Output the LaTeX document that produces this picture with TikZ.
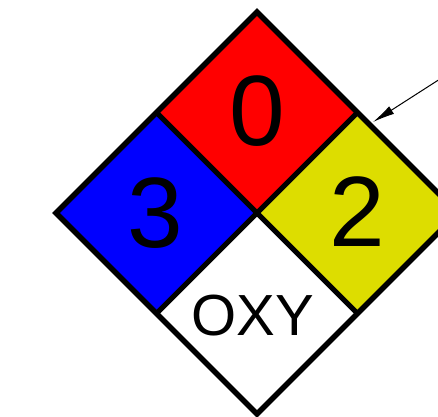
\documentclass[tikz,border=0pt]{standalone}
\usepackage{fontspec}
\setmainfont{Liberation Sans}
\usetikzlibrary{arrows.meta}
\definecolor{firered}{RGB}{255,0,0}
\definecolor{healthblue}{RGB}{0,0,255}
\definecolor{reactyellow}{RGB}{221,221,0}
\tikzset{
  rimline/.style={draw=black, line width=5.5pt, line join=miter},
  splitline/.style={draw=black, line width=5pt},
  rating/.style={font=\fontsize{100}{100}\selectfont, inner sep=0pt},
  special/.style={font=\fontsize{58}{58}\selectfont, inner sep=0pt},
  pointer/.style={-{Latex[length=22pt,width=9pt]}, line width=1pt}
}

\begin{document}
\begin{tikzpicture}[x=1pt,y=1pt]
  \clip (0,0) rectangle (438,416);
  % corners of the diamond
  \coordinate (c) at (257,203);
  \coordinate (t) at (257,404);
  \coordinate (l) at (56,203);
  \coordinate (r) at (458,203);
  \coordinate (b) at (257,2);
  \coordinate (tl) at (156.5,303.5);
  \coordinate (tr) at (357.5,303.5);
  \coordinate (bl) at (156.5,102.5);
  \coordinate (br) at (357.5,102.5);
  % quarters
  \fill[firered] (t) -- (tr) -- (c) -- (tl) -- cycle;
  \fill[healthblue] (l) -- (tl) -- (c) -- (bl) -- cycle;
  \fill[reactyellow] (r) -- (tr) -- (c) -- (br) -- cycle;
  \fill[white] (b) -- (bl) -- (c) -- (br) -- cycle;
  \draw[splitline] (tl) -- (br);
  \draw[splitline] (tr) -- (bl);
  \draw[rimline] (t) -- (r) -- (b) -- (l) -- cycle;
  % ratings
  \node[rating] (fire) at (257,305) {0};
  \node[rating] (health) at (155,203) {3};
  \node[rating] (react) at (357,204) {2};
  \node[special] (oxy) at (253,100) {OXY};
  % pointer
  \coordinate (ptrstart) at (440,337);
  \coordinate (ptrend) at (373,294);
  \draw[pointer] (ptrstart) -- (ptrend);
\end{tikzpicture}
\end{document}
